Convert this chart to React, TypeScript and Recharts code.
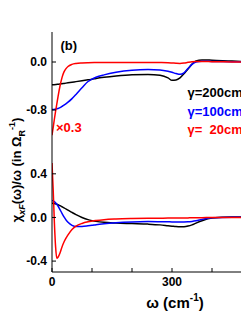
import React from 'react';
import { LineChart, Line, XAxis, YAxis, Customized } from 'recharts';

// shared omega grid (cm^-1) for the gamma=200 and gamma=100 curves
const omega = [0, 5, 10, 15, 20, 25, 30, 40, 50, 60, 75, 90, 100, 110, 130, 160, 200, 240, 270, 290, 300, 310, 320, 330, 340, 350, 360, 375, 400, 450, 500];
// denser grid for the gamma=20 curves
const omegaRed = [0, 3, 6, 9, 12, 15, 20, 25, 30, 35, 40, 50, 60, 75, 90, 110, 130, 160, 200, 240, 270, 290, 300, 310, 320, 330, 340, 350, 360, 375, 400, 450, 500];

// top panel (b): chi/omega real part
const topG200 = [-0.38, -0.378, -0.375, -0.371, -0.367, -0.362, -0.357, -0.347, -0.337, -0.327, -0.312, -0.297, -0.287, -0.275, -0.255, -0.232, -0.212, -0.208, -0.222, -0.265, -0.305, -0.3, -0.265, -0.195, -0.115, -0.035, 0.018, 0.035, 0.03, 0.015, 0.005];
const topG100 = [-0.79, -0.79, -0.785, -0.775, -0.76, -0.74, -0.72, -0.67, -0.61, -0.54, -0.43, -0.325, -0.285, -0.255, -0.215, -0.172, -0.138, -0.127, -0.133, -0.155, -0.172, -0.192, -0.205, -0.18, -0.11, -0.04, 0.0, 0.012, 0.01, 0.005, 0.0];
const topG20 = [-1.22, -1.09, -0.95, -0.82, -0.7, -0.58, -0.4, -0.26, -0.165, -0.11, -0.075, -0.04, -0.025, -0.016, -0.012, -0.01, -0.009, -0.008, -0.008, -0.009, -0.01, -0.012, -0.016, -0.021, -0.024, -0.018, -0.006, 0.004, 0.008, 0.008, 0.005, 0.002, 0.0];

// bottom panel
const botG200 = [0.13, 0.128, 0.124, 0.117, 0.108, 0.098, 0.088, 0.067, 0.046, 0.026, 0.0, -0.02, -0.029, -0.036, -0.045, -0.051, -0.056, -0.061, -0.068, -0.076, -0.08, -0.084, -0.086, -0.085, -0.079, -0.068, -0.052, -0.03, -0.006, 0.004, 0.003];
const botG100 = [0.155, 0.148, 0.13, 0.105, 0.072, 0.038, 0.006, -0.045, -0.073, -0.084, -0.083, -0.077, -0.072, -0.066, -0.057, -0.048, -0.041, -0.038, -0.039, -0.04, -0.041, -0.041, -0.041, -0.041, -0.04, -0.036, -0.03, -0.018, -0.003, 0.002, 0.0];
const botG20 = [0.5, 0.25, -0.05, -0.27, -0.375, -0.365, -0.325, -0.27, -0.225, -0.19, -0.16, -0.11, -0.08, -0.055, -0.04, -0.028, -0.02, -0.014, -0.01, -0.008, -0.007, -0.006, -0.006, -0.006, -0.005, -0.005, -0.004, -0.003, -0.003, -0.002, -0.001, 0.0, 0.0];

const xTicks = [0, 100, 200, 300, 400, 500];
const xLabelled = [0, 300];
const topYTicks = [-0.8, 0.0];
const botYTicks = [-0.4, 0.0, 0.4];

const zip = (xs: number[], ys: number[]) => xs.map((x, i) => ({ x, y: ys[i] }));

const FONT = '"Liberation Sans", Arial, sans-serif';
const tickStyle = { fontFamily: FONT, fontWeight: 700, fontSize: 12, fill: '#000' };
const fmtY = (v: number) => v.toFixed(1);
const fmtX = (v: number) => (xLabelled.includes(v) ? String(v) : '');

const TopAnnotations = () => (
  <g fontFamily={FONT} fontWeight={700}>
    <text x={52.5} y={42} fontSize={13} fill="#000">(b)</text>
    <text x={48} y={124} fontSize={13} fill="#ff0000">×0.3</text>
    <text x={179.5} y={89} fontSize={13} fill="#000">γ=200cm<tspan fontSize={9} dy={-6}>-1</tspan></text>
    <text x={179.5} y={107.5} fontSize={13} fill="#0000ff">γ=100cm<tspan fontSize={9} dy={-6}>-1</tspan></text>
    <text x={179.5} y={126} fontSize={13} fill="#ff0000">γ={'\u00a0\u00a0'}20cm<tspan fontSize={9} dy={-6}>-1</tspan></text>
    <text x={8} y={162} fontSize={13} fill="#000" textAnchor="middle" transform="rotate(-90 8 162)" dy={5}>
      χ<tspan fontSize={9} dy={4} fontStyle="italic">xF</tspan><tspan dy={-4}>(ω)/ω (in Ω</tspan><tspan fontSize={9} dy={4}>R</tspan><tspan fontSize={9} dy={-10}>-1</tspan><tspan dy={6}>)</tspan>
    </text>
  </g>
);

const BottomAnnotations = () => (
  <g fontFamily={FONT} fontWeight={700}>
    <text x={167} y={162} fontSize={15} fill="#000" textAnchor="middle">
      ω (cm<tspan fontSize={10} dy={-7}>-1</tspan><tspan dy={7}>)</tspan>
    </text>
  </g>
);

export default function App() {
  return (
    <div style={{ position: 'relative', width: 241, height: 315, overflow: 'hidden' }}>
      <div style={{ position: 'absolute', left: 0, top: 0 }}>
        <LineChart width={244} height={315} margin={{ top: 24, right: 0, bottom: 171, left: 0 }}>
          <XAxis type="number" dataKey="x" domain={[0, 500]} ticks={xTicks} height={0} tick={false}
            tickSize={-4} axisLine={{ stroke: '#000' }} tickLine={{ stroke: '#000' }} allowDataOverflow />
          <XAxis xAxisId="t" orientation="top" type="number" dataKey="x" domain={[0, 500]} ticks={xTicks} height={0}
            tick={false} tickSize={-4} axisLine={{ stroke: '#000' }} tickLine={{ stroke: '#000' }} allowDataOverflow />
          <YAxis type="number" domain={[-1.5, 0.5]} ticks={topYTicks} width={44} tickFormatter={fmtY}
            tickSize={-4} tickMargin={9} tick={tickStyle} axisLine={{ stroke: '#000' }} tickLine={{ stroke: '#000' }} allowDataOverflow />
          <Line data={zip(omega, topG200)} dataKey="y" type="monotone" stroke="#000000" strokeWidth={1.5} dot={false} isAnimationActive={false} />
          <Line data={zip(omega, topG100)} dataKey="y" type="monotone" stroke="#0000ff" strokeWidth={1.5} dot={false} isAnimationActive={false} />
          <Line data={zip(omegaRed, topG20)} dataKey="y" type="monotone" stroke="#ff0000" strokeWidth={1.5} dot={false} isAnimationActive={false} />
          <Customized component={<TopAnnotations />} />
        </LineChart>
      </div>
      <div style={{ position: 'absolute', left: 0, top: 138 }}>
        <LineChart width={244} height={177} margin={{ top: 6, right: 0, bottom: 0, left: 0 }}>
          <XAxis type="number" dataKey="x" domain={[0, 500]} ticks={xTicks} height={51} tickFormatter={fmtX}
            tickSize={-4} tickMargin={9} tick={tickStyle} axisLine={{ stroke: '#000' }} tickLine={{ stroke: '#000' }} allowDataOverflow />
          <XAxis xAxisId="t" orientation="top" type="number" dataKey="x" domain={[0, 500]} ticks={xTicks} height={0}
            tick={false} tickSize={-4} axisLine={{ stroke: '#000' }} tickLine={{ stroke: '#000' }} allowDataOverflow />
          <YAxis type="number" domain={[-0.5, 0.6]} ticks={botYTicks} width={44} tickFormatter={fmtY}
            tickSize={-4} tickMargin={9} tick={tickStyle} axisLine={{ stroke: '#000' }} tickLine={{ stroke: '#000' }} allowDataOverflow />
          <Line data={zip(omega, botG200)} dataKey="y" type="monotone" stroke="#000000" strokeWidth={1.5} dot={false} isAnimationActive={false} />
          <Line data={zip(omega, botG100)} dataKey="y" type="monotone" stroke="#0000ff" strokeWidth={1.5} dot={false} isAnimationActive={false} />
          <Line data={zip(omegaRed, botG20)} dataKey="y" type="monotone" stroke="#ff0000" strokeWidth={1.5} dot={false} isAnimationActive={false} />
          <Customized component={<BottomAnnotations />} />
        </LineChart>
      </div>
    </div>
  );
}
